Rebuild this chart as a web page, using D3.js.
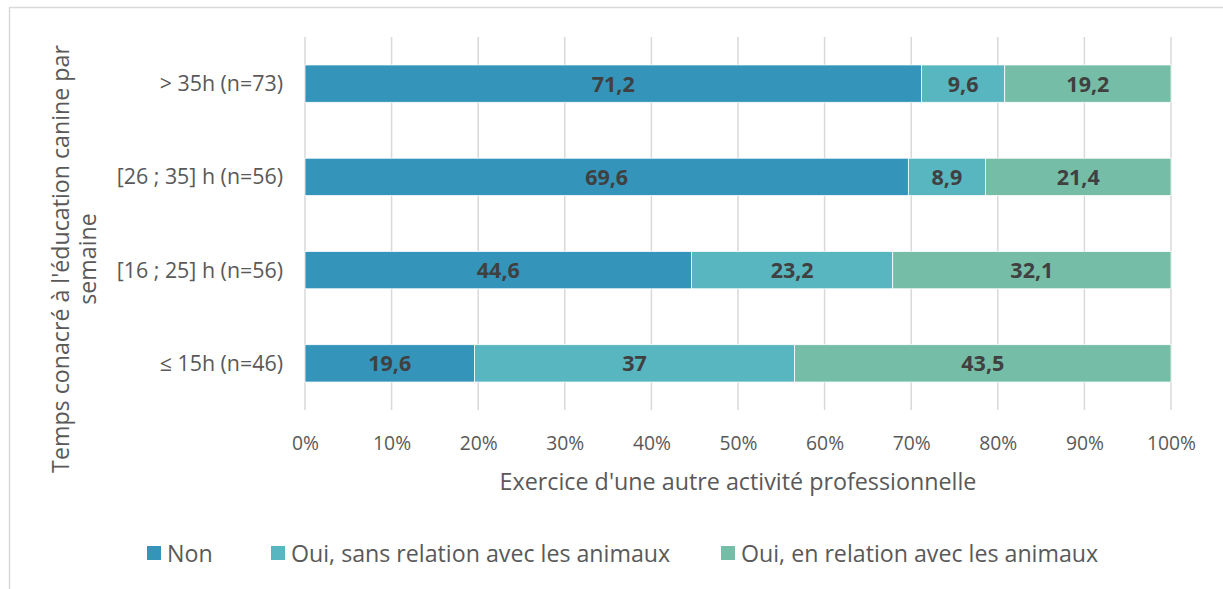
<!DOCTYPE html>
<html>
<head>
<meta charset="utf-8">
<script src="https://cdn.jsdelivr.net/npm/d3@7"></script>
<style>
  body { margin: 0; background: #fff; }
  svg text { font-family: "Open Sans", sans-serif; fill: #595959; }
</style>
</head>
<body>
<svg id="canvas"></svg>
<script>
let categories = ["> 35h (n=73)", "[26 ; 35] h (n=56)", "[16 ; 25] h (n=56)", "≤ 15h (n=46)"];
let seriesNames = ["Non", "Oui, sans relation avec les animaux", "Oui, en relation avec les animaux"];
let nonValues = [71.2, 69.6, 44.6, 19.6];
let ouiSansValues = [9.6, 8.9, 23.2, 37];
let ouiEnValues = [19.2, 21.4, 32.1, 43.5];
let tickValues = [0, 0.1, 0.2, 0.3, 0.4, 0.5, 0.6, 0.7, 0.8, 0.9, 1];
let colors = ["#3494ba", "#58b6c0", "#75bda7"];

let width = 1223,
  height = 589;

let canvas = d3.select("#canvas").attr("width", width).attr("height", height);

// chart frame
canvas.append("rect")
  .attr("x", 9.5).attr("y", 7.5)
  .attr("width", width + 10).attr("height", height + 10)
  .attr("fill", "none").attr("stroke", "#d9d9d9").attr("stroke-width", 1.5);

let rows = categories.map((c, i) => {
  let vals = [nonValues[i], ouiSansValues[i], ouiEnValues[i]];
  let total = d3.sum(vals);
  let start = 0;
  return vals.map((v, k) => {
    let seg = { cat: c, k: k, value: v, x0: start / total, x1: (start + v) / total };
    start += v;
    return seg;
  });
});

let xScale = d3.scaleLinear().domain([0, 1]).range([305, 1171]);
let yScale = d3.scaleBand().domain(categories).range([37, 410]).paddingInner(0.6).paddingOuter(0.3);

// gridlines
canvas.append("g")
  .selectAll("line")
  .data(tickValues)
  .enter()
  .append("line")
  .attr("x1", (d) => xScale(d)).attr("x2", (d) => xScale(d))
  .attr("y1", 37).attr("y2", 410)
  .attr("stroke", "#d9d9d9").attr("stroke-width", 1.5);

// bars
let groups = canvas.append("g")
  .selectAll("g")
  .data(rows)
  .enter()
  .append("g");

groups.selectAll("rect")
  .data((d) => d)
  .enter()
  .append("rect")
  .attr("x", (d) => xScale(d.x0))
  .attr("width", (d) => xScale(d.x1) - xScale(d.x0))
  .attr("y", (d) => yScale(d.cat))
  .attr("height", yScale.bandwidth())
  .attr("fill", (d) => colors[d.k])
  .attr("stroke", "#fff")
  .attr("stroke-width", 0.75);

groups.selectAll("text")
  .data((d) => d)
  .enter()
  .append("text")
  .attr("x", (d) => (xScale(d.x0) + xScale(d.x1)) / 2)
  .attr("y", (d) => yScale(d.cat) + yScale.bandwidth() / 2 + 8)
  .attr("text-anchor", "middle")
  .style("font-size", "21.5px")
  .style("font-weight", "bold")
  .style("fill", "#404040")
  .text((d) => String(d.value).replace(".", ","));

// x axis
let xAxis = d3.axisBottom(xScale).tickValues(tickValues).tickFormat(d3.format(".0%")).tickSize(0).tickPadding(0);
let gx = canvas.append("g").attr("transform", "translate(0, 450)").call(xAxis);
gx.select(".domain").remove();
gx.selectAll("text").attr("dy", 0).style("font-size", "19.3px").style("fill", "#595959");

// y axis
let yAxis = d3.axisLeft(yScale).tickSize(0).tickPadding(0);
let gy = canvas.append("g").attr("transform", "translate(283, 0)").call(yAxis);
gy.select(".domain").remove();
gy.selectAll("text").attr("dy", "0.35em").style("font-size", "21.4px").style("fill", "#595959");

// axis titles
canvas.append("text")
  .attr("x", 738).attr("y", 490)
  .attr("text-anchor", "middle")
  .style("font-size", "23.3px")
  .text("Exercice d'une autre activité professionnelle");

let yTitle = canvas.append("text")
  .attr("transform", "translate(0, 259) rotate(-90)")
  .attr("text-anchor", "middle")
  .style("font-size", "23.2px");
yTitle.append("tspan").attr("x", 0).attr("y", 69).text("Temps conacré à l'éducation canine par");
yTitle.append("tspan").attr("x", 0).attr("y", 96).text("semaine");

// legend
let legendX = [147, 271, 721];
let legend = canvas.append("g")
  .selectAll("g")
  .data(seriesNames)
  .enter()
  .append("g")
  .attr("transform", (d, i) => "translate(" + legendX[i] + ", 546)");

legend.append("rect")
  .attr("width", 14).attr("height", 14)
  .attr("fill", (d, i) => colors[i]);

legend.append("text")
  .attr("x", 20).attr("y", 15.5)
  .style("font-size", "23.2px")
  .text((d) => d);
</script>
</body>
</html>
